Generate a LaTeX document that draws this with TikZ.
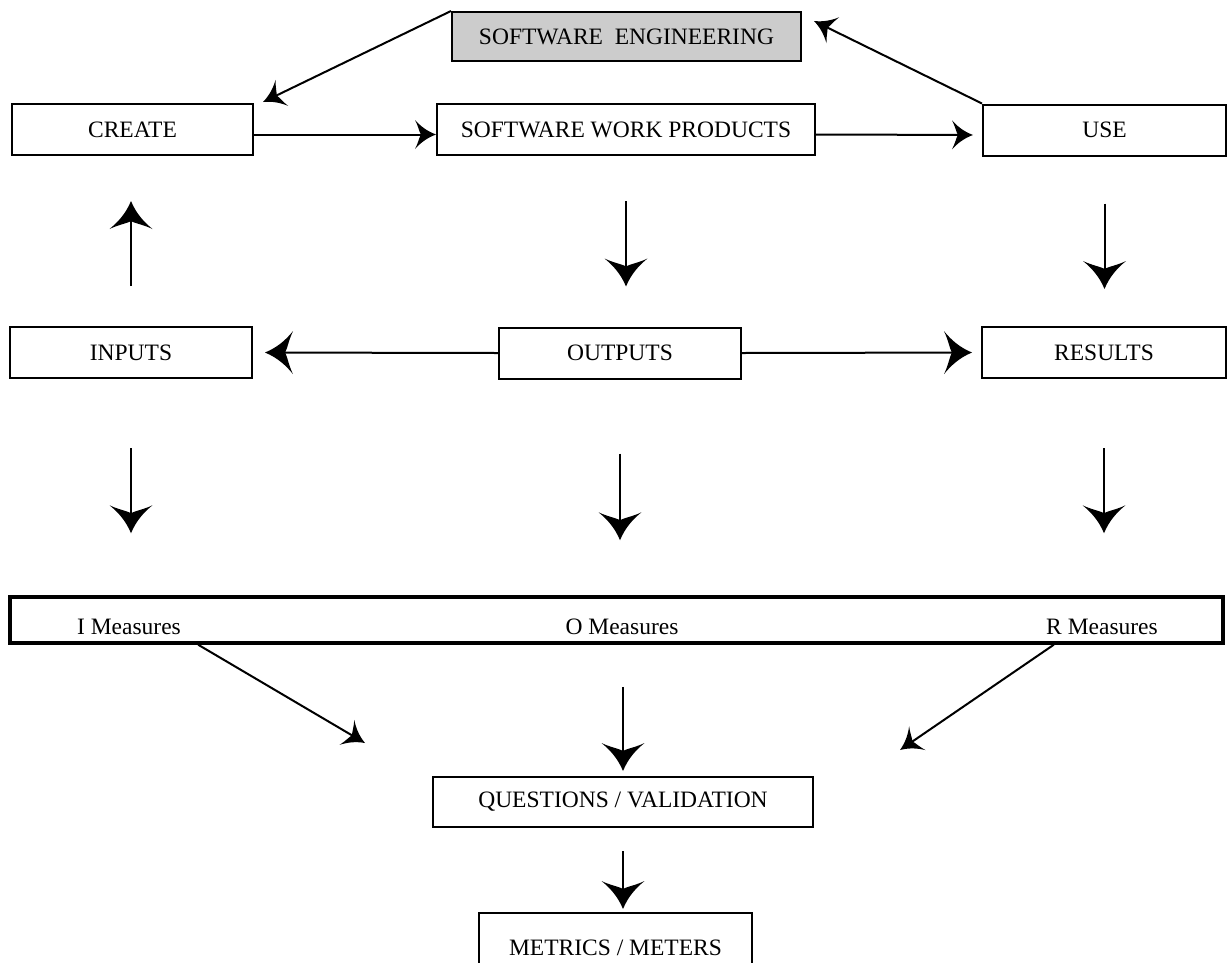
\documentclass[tikz,border=0pt]{standalone}
\usepackage{fontspec}
\setmainfont{Liberation Serif}
\usetikzlibrary{arrows.meta,calc}
\pgfdeclarearrow{
  name = Wing,
  parameters = {\the\pgfarrowlength,\the\pgfarrowwidth},
  setup code = {
    \pgfarrowssettipend{0pt}
    \pgfarrowssetlineend{-.6\pgfarrowlength}
    \pgfarrowssetbackend{-\pgfarrowlength}
    \pgfarrowssetvisualbackend{-.7\pgfarrowlength}
    \pgfarrowshullpoint{0pt}{0pt}
    \pgfarrowsupperhullpoint{-\pgfarrowlength}{.5\pgfarrowwidth}
    \pgfarrowssavethe\pgfarrowlength
    \pgfarrowssavethe\pgfarrowwidth
  },
  drawing code = {
    \pgfpathmoveto{\pgfqpoint{0pt}{0pt}}
    \pgfpathcurveto{\pgfqpoint{-.45\pgfarrowlength}{.12\pgfarrowwidth}}{\pgfqpoint{-.75\pgfarrowlength}{.3\pgfarrowwidth}}{\pgfqpoint{-\pgfarrowlength}{.5\pgfarrowwidth}}
    \pgfpathcurveto{\pgfqpoint{-.85\pgfarrowlength}{.3\pgfarrowwidth}}{\pgfqpoint{-.8\pgfarrowlength}{.1\pgfarrowwidth}}{\pgfqpoint{-.72\pgfarrowlength}{0pt}}
    \pgfpathcurveto{\pgfqpoint{-.8\pgfarrowlength}{-.1\pgfarrowwidth}}{\pgfqpoint{-.85\pgfarrowlength}{-.3\pgfarrowwidth}}{\pgfqpoint{-\pgfarrowlength}{-.5\pgfarrowwidth}}
    \pgfpathcurveto{\pgfqpoint{-.75\pgfarrowlength}{-.3\pgfarrowwidth}}{\pgfqpoint{-.45\pgfarrowlength}{-.12\pgfarrowwidth}}{\pgfqpoint{0pt}{0pt}}
    \pgfpathclose
    \pgfusepathqfill
  },
  defaults = {length=10pt, width=14pt}
}
\tikzset{
  box/.style={draw, line width=2pt, minimum height=51pt, inner sep=0pt,
    font=\fontsize{23.5pt}{28pt}\selectfont},
  lbl/.style={inner sep=0pt, font=\fontsize{23.5pt}{28pt}\selectfont},
  bigarr/.style={line width=2pt, -{Wing[length=28pt,width=43pt]}},
  smallarr/.style={line width=2pt, -{Wing[length=21pt,width=29pt]}},
}
\begin{document}
\begin{tikzpicture}[x=1pt,y=-1pt]
\clip (0,0) rectangle (1232,962);
\fill[white] (0,0) rectangle (1232,962);
% nodes
\node[box, fill=black!20, minimum width=349pt, minimum height=49pt] (se) at (626.5,36.5) {SOFTWARE\ \ ENGINEERING};
\node[box, minimum width=241pt] (create) at (132.5,129.5) {CREATE};
\node[box, minimum width=378pt] (swp) at (626,129.5) {SOFTWARE WORK PRODUCTS};
\node[box, minimum width=243pt] (use) at (1104.5,130) {USE};
\node[box, minimum width=242pt] (inputs) at (131,352.5) {INPUTS};
\node[box, minimum width=242pt] (outputs) at (620,353) {OUTPUTS};
\node[box, minimum width=244pt] (results) at (1104,352.5) {RESULTS};
\node[draw, line width=3.5pt, minimum width=1213pt, minimum height=46pt, inner sep=0pt] (meas) at (616.5,620) {};
\node[lbl] (im) at (129,627) {I Measures};
\node[lbl] (om) at (622,627) {O Measures};
\node[lbl] (rm) at (1102,627) {R Measures};
\node[box, minimum width=380pt, minimum height=50pt] (q) at (623,802) {QUESTIONS / VALIDATION};
\node[box, minimum width=273pt, minimum height=70pt] (m) at (615.5,948) {METRICS / METERS};
% free ends
\coordinate (cTip) at (263,102);
\coordinate (seTip) at (814,21);
\coordinate (dl) at (365,743);
\coordinate (dr) at (900,750);
% connectors
\draw[smallarr] (se.north west) -- (cTip);
\draw[smallarr] (use.north west) -- (seTip);
\draw[smallarr] ([yshift=-5pt]create.east) -- ([yshift=-5pt]swp.west);
\draw[smallarr, shorten >=9pt] ([yshift=-5pt]swp.east) -- ([yshift=-5pt]use.west);
\draw[bigarr, shorten <=40pt, shorten >=45pt] (inputs.north) -- (inputs.north |- create.south);
\draw[bigarr, shorten <=45pt, shorten >=40pt] (swp.south) -- (swp.south |- outputs.north);
\draw[bigarr, shorten <=47pt, shorten >=37pt] (use.south) -- (use.south |- results.north);
\draw[bigarr, shorten >=12pt] (outputs.west) -- (inputs.east);
\draw[bigarr, shorten >=9pt] (outputs.east) -- (results.west);
\draw[bigarr, shorten <=69pt, shorten >=62pt] (inputs.south) -- (inputs.south |- meas.north);
\draw[bigarr, shorten <=74pt, shorten >=55pt] (outputs.south) -- (outputs.south |- meas.north);
\draw[bigarr, shorten <=69pt, shorten >=62pt] (results.south) -- (results.south |- meas.north);
\draw[smallarr] ([xshift=190pt]meas.south west) -- (dl);
\draw[smallarr] ([xshift=-171pt]meas.south east) -- (dr);
\draw[bigarr, shorten <=42pt, shorten >=5pt] (q.north |- meas.south) -- (q.north);
\draw[bigarr, shorten <=23pt, shorten >=3pt] (q.south) -- (q.south |- m.north);
\end{tikzpicture}
\end{document}
